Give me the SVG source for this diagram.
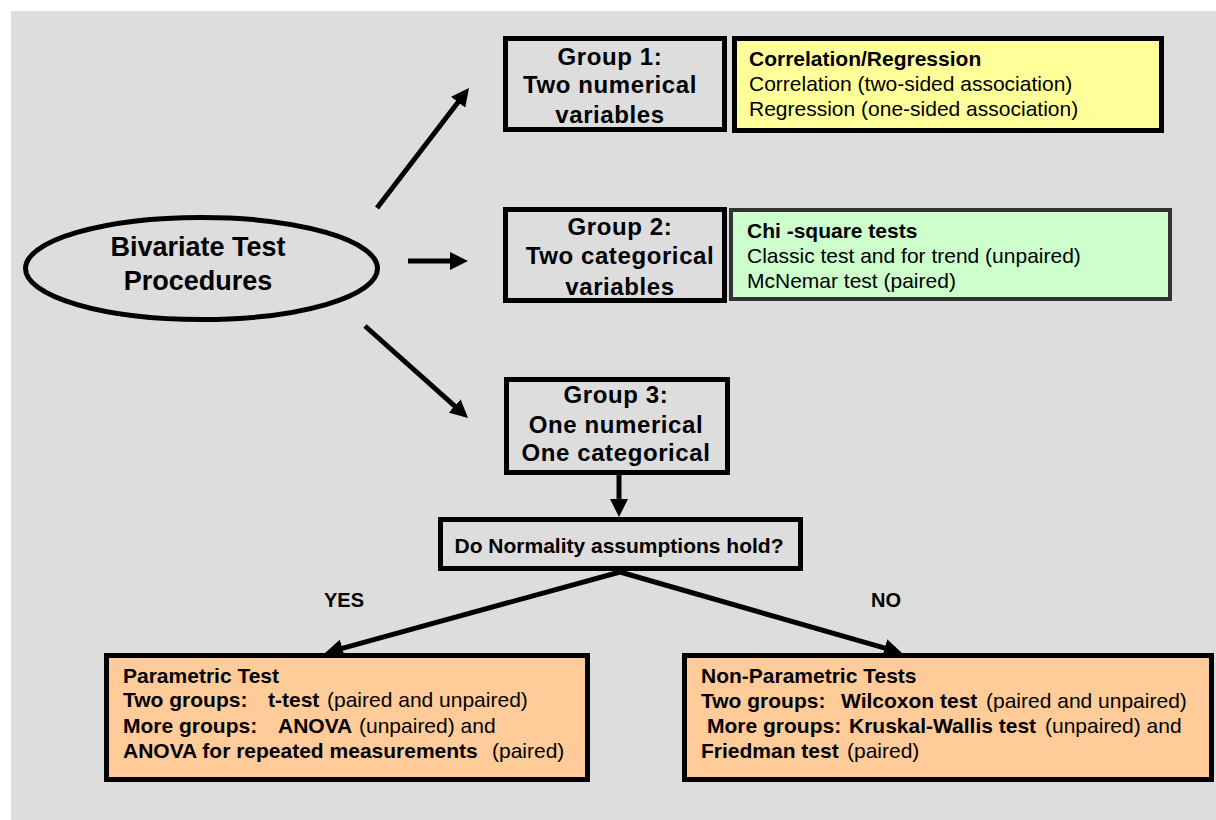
<svg xmlns="http://www.w3.org/2000/svg" width="1216" height="820" viewBox="0 0 1216 820">
<defs>
<style>
.bg{fill:#dddddd}
.grp{fill:#dddddd;stroke:#000;stroke-width:5}
.yel{fill:#ffff99;stroke:#000;stroke-width:5}
.grn{fill:#ccffcc;stroke:#333;stroke-width:4}
.org{fill:#ffcc99;stroke:#000;stroke-width:5}
.edge{stroke:#000;stroke-width:5;fill:none;marker-end:url(#ah)}
text{font-family:"Liberation Sans",Arial,sans-serif;fill:#000}
.big{font-size:27px;font-weight:bold;text-anchor:middle}
.gt{font-size:24px;font-weight:bold;text-anchor:middle;letter-spacing:0.6px}
.t{font-size:21px}
.b{font-weight:bold}
.lbl{font-size:20px;font-weight:bold;text-anchor:middle}
</style>
<marker id="ah" markerUnits="userSpaceOnUse" viewBox="0 0 18 18" markerWidth="18" markerHeight="18" refX="4" refY="9" orient="auto">
<path d="M0,0 L18,9 L0,18 z" fill="#000"/>
</marker>
</defs>
<rect class="bg" x="11" y="11" width="1205" height="809"/>

<g id="connectors">
<line class="edge" x1="377" y1="208" x2="460.5" y2="99.1"/>
<line class="edge" x1="408" y1="261" x2="454" y2="261"/>
<line class="edge" x1="365" y1="326" x2="457.6" y2="408.7"/>
<line class="edge" x1="619" y1="475" x2="619" y2="503"/>
<line class="edge" x1="620" y1="572" x2="338.5" y2="649.3"/>
<line class="edge" x1="620" y1="572" x2="888.5" y2="649.1"/>
<text class="lbl" x="344" y="607">YES</text>
<text class="lbl" x="886" y="607">NO</text>
</g>

<g id="start">
<ellipse cx="201.5" cy="268.5" rx="176" ry="51" fill="#dddddd" stroke="#000" stroke-width="5"/>
<text class="big" x="198" y="256">Bivariate Test</text>
<text class="big" x="198" y="290">Procedures</text>
</g>

<g id="group1">
<rect class="grp" x="505.5" y="38.5" width="219" height="91"/>
<text class="gt" x="610" y="65">Group 1:</text>
<text class="gt" x="610" y="93">Two numerical</text>
<text class="gt" x="610" y="123">variables</text>
</g>

<g id="corr">
<rect class="yel" x="734.5" y="38.5" width="427" height="92"/>
<text class="t b" x="749" y="66">Correlation/Regression</text>
<text class="t" x="749" y="91">Correlation (two-sided association)</text>
<text class="t" x="749" y="116">Regression (one-sided association)</text>
</g>

<g id="group2">
<rect class="grp" x="505.5" y="209.5" width="219" height="91"/>
<text class="gt" x="620" y="235">Group 2:</text>
<text class="gt" x="620" y="264">Two categorical</text>
<text class="gt" x="620" y="295">variables</text>
</g>

<g id="chi">
<rect class="grn" x="731" y="210" width="439" height="89"/>
<text class="t b" x="747" y="238">Chi -square tests</text>
<text class="t" x="747" y="263">Classic test and for trend (unpaired)</text>
<text class="t" x="747" y="288">McNemar test (paired)</text>
</g>

<g id="group3">
<rect class="grp" x="506.5" y="379.5" width="221" height="93"/>
<text class="gt" x="616" y="403">Group 3:</text>
<text class="gt" x="616" y="433">One numerical</text>
<text class="gt" x="616" y="461">One categorical</text>
</g>

<g id="normality">
<rect class="grp" x="440.5" y="519.5" width="360" height="49"/>
<text class="t b" x="619" y="553" text-anchor="middle">Do Normality assumptions hold?</text>
</g>

<g id="parametric">
<rect class="org" x="106.5" y="655.5" width="481" height="124"/>
<text class="t b" x="123" y="683">Parametric Test</text>
<text class="t" y="707"><tspan class="b" x="123">Two groups:</tspan><tspan class="b" x="268">t-test</tspan><tspan x="327">(paired and unpaired)</tspan></text>
<text class="t" y="733"><tspan class="b" x="123">More groups:</tspan><tspan class="b" x="278">ANOVA</tspan><tspan x="359">(unpaired) and</tspan></text>
<text class="t" y="758"><tspan class="b" x="123">ANOVA for repeated measurements</tspan><tspan x="492">(paired)</tspan></text>
</g>

<g id="nonparametric">
<rect class="org" x="684.5" y="655.5" width="527" height="124"/>
<text class="t b" x="701" y="683">Non-Parametric Tests</text>
<text class="t" y="708"><tspan class="b" x="701">Two groups:</tspan><tspan class="b" x="841">Wilcoxon test</tspan><tspan x="986">(paired and unpaired)</tspan></text>
<text class="t" y="733"><tspan class="b" x="707">More groups:</tspan><tspan class="b" x="849">Kruskal-Wallis test</tspan><tspan x="1045">(unpaired) and</tspan></text>
<text class="t" y="758"><tspan class="b" x="701">Friedman test</tspan><tspan x="847">(paired)</tspan></text>
</g>
</svg>
